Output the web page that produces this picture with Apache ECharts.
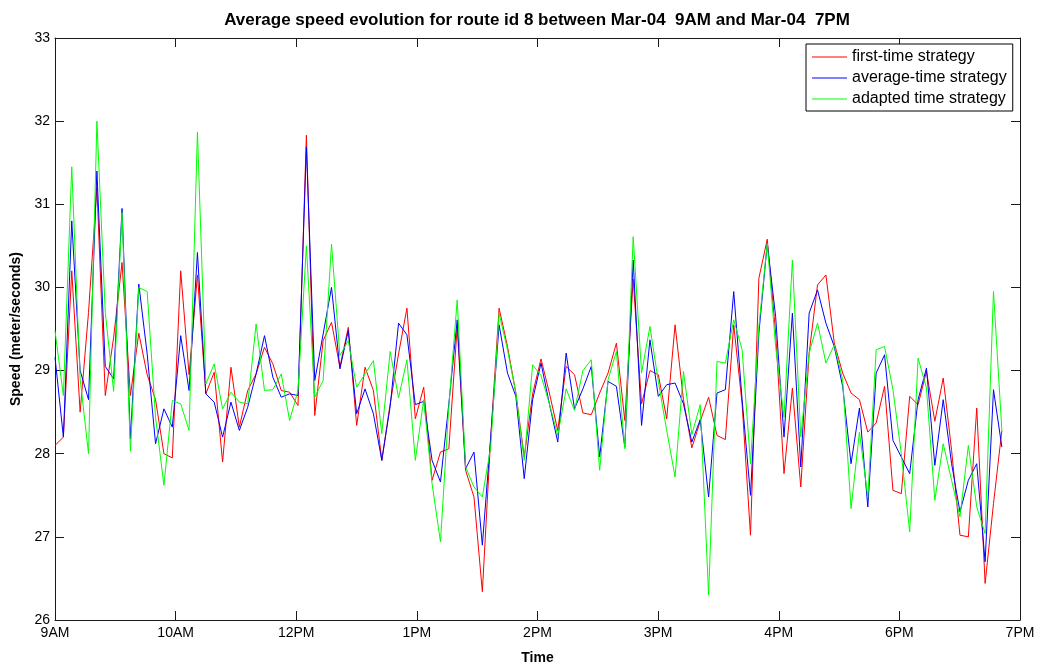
<!DOCTYPE html>
<html>
<head>
<meta charset="utf-8">
<title>Average speed evolution</title>
<script src="https://cdn.jsdelivr.net/npm/echarts@6/dist/echarts.min.js"></script>
<style>
  html, body { margin: 0; padding: 0; background: #fff; }
  #chart-container { width: 1049px; height: 662px; }
</style>
</head>
<body>
<div id="chart-container"></div>
<script>
// tick labels as printed under the axis (one every 75 minutes)
const tickLabels = ["9AM", "10AM", "12PM", "1PM", "2PM", "3PM", "4PM", "6PM", "7PM"];
const yTicks = [26, 27, 28, 29, 30, 31, 32, 33];

// sampling step of the measurements, in minutes after 9AM
const stepMin = 5.21;

const firstTime = [
  28.1, 28.2, 30.2, 28.5, 29.7, 31.2, 28.7, 29.4, 30.3, 28.7,
  29.45, 28.95, 28.65, 28.0, 27.95, 30.2, 28.95, 30.15, 28.72, 28.98,
  27.9, 29.04, 28.32, 28.76, 28.96, 29.28, 29.08, 28.76, 28.74, 28.58,
  31.83, 28.46, 29.36, 29.58, 29.04, 29.52, 28.34, 29.04, 28.76, 27.92,
  28.6, 29.2, 29.75, 28.42, 28.8, 27.68, 28.02, 28.06, 29.53, 27.8,
  27.48, 26.34, 28.2, 29.75, 29.29, 28.73, 27.96, 28.72, 29.14, 28.73,
  28.28, 29.05, 28.95, 28.49, 28.47, 28.73, 28.97, 29.33, 28.4, 30.1,
  28.6, 29.0, 28.95, 28.42, 29.55, 28.65, 28.07, 28.39, 28.68, 28.22,
  28.17, 29.55, 28.6, 27.02, 30.11, 30.58, 29.45, 27.76, 28.79, 27.6,
  29.21, 30.03, 30.15, 29.33, 28.97, 28.73, 28.65, 28.26, 28.37, 28.81,
  27.56, 27.52, 28.69, 28.59, 28.99, 28.39, 28.91, 28.04, 27.02, 27.0,
  28.55, 26.44, 27.4, 28.28
];

const averageTime = [
  29.16, 28.2, 30.8, 29.0, 28.65, 31.4, 29.05, 28.9, 30.95, 28.18,
  30.04, 29.2, 28.12, 28.54, 28.32, 29.42, 28.76, 30.42, 28.72, 28.62,
  28.2, 28.62, 28.28, 28.56, 28.96, 29.42, 28.92, 28.68, 28.72, 28.7,
  31.69, 28.88, 29.44, 30.0, 29.02, 29.48, 28.48, 28.78, 28.48, 27.92,
  28.57, 29.57, 29.43, 28.59, 28.63, 27.92, 27.66, 28.6, 29.61, 27.82,
  28.02, 26.9, 28.2, 29.55, 28.97, 28.69, 27.7, 28.65, 29.09, 28.6,
  28.14, 29.21, 28.54, 28.78, 29.05, 27.96, 28.87, 28.81, 28.08, 30.33,
  28.34, 29.37, 28.69, 28.83, 28.85, 28.6, 28.14, 28.41, 27.48, 28.73,
  28.77, 29.95, 28.65, 27.5, 29.45, 30.53, 29.65, 28.2, 29.69, 27.84,
  29.69, 29.97, 29.57, 29.29, 28.81, 27.88, 28.55, 27.36, 28.97, 29.19,
  28.16, 27.96, 27.76, 28.65, 29.03, 27.86, 28.65, 27.88, 27.3, 27.68,
  27.88, 26.7, 28.77, 28.08
];

const adaptedTime = [
  29.48, 28.7, 31.45, 28.9, 28.0, 32.0, 29.7, 28.75, 30.9, 28.03,
  30.0, 29.95, 28.44, 27.62, 28.64, 28.6, 28.28, 31.87, 28.84, 29.08,
  28.54, 28.74, 28.62, 28.6, 29.56, 28.76, 28.77, 28.96, 28.4, 28.76,
  30.5, 28.68, 28.88, 30.52, 29.18, 29.36, 28.8, 28.96, 29.12, 28.24,
  29.23, 28.67, 29.13, 27.92, 28.65, 27.64, 26.94, 28.57, 29.85, 27.84,
  27.6, 27.48, 28.08, 29.69, 29.25, 28.73, 27.92, 29.07, 28.94, 28.6,
  28.22, 28.78, 28.52, 29.0, 29.13, 27.8, 28.89, 29.23, 28.06, 30.61,
  28.97, 29.53, 28.87, 28.28, 27.72, 28.99, 28.23, 28.59, 26.3, 29.11,
  29.09, 29.61, 29.25, 27.88, 29.53, 30.53, 29.29, 28.44, 30.33, 28.2,
  29.21, 29.57, 29.09, 29.31, 28.89, 27.34, 28.26, 27.48, 29.25, 29.29,
  28.77, 28.0, 27.06, 29.15, 28.79, 27.44, 28.12, 27.68, 27.24, 28.1,
  27.36, 27.04, 29.95, 28.28
];

const seriesNames = ["first-time strategy", "average-time strategy", "adapted time strategy"];
const seriesColors = ["#ff0000", "#0000ff", "#00ff00"];

const pairs = vals => vals.map((v, i) => [i * stepMin, v]);

const axisColor = "#1a1a1a";
const font = "Liberation Sans, Arial, sans-serif";

const chart = echarts.init(document.getElementById("chart-container"), null, { renderer: "canvas" });

const baseX = {
  type: "value", min: 0, max: 600, interval: 75,
  axisLine: { show: true, onZero: false, lineStyle: { color: axisColor, width: 1 } },
  axisTick: { show: true, inside: true, length: 9, lineStyle: { color: axisColor } },
  splitLine: { show: false }
};
const baseY = {
  type: "value", min: yTicks[0], max: yTicks[yTicks.length - 1], interval: 1,
  axisLine: { show: true, onZero: false, lineStyle: { color: axisColor, width: 1 } },
  axisTick: { show: true, inside: true, length: 9, lineStyle: { color: axisColor } },
  splitLine: { show: false }
};

const lineSeries = [firstTime, averageTime, adaptedTime].map((vals, k) => ({
  name: seriesNames[k],
  type: "line",
  data: pairs(vals),
  symbol: "none",
  legendIcon: "rect",
  lineStyle: { color: seriesColors[k], width: 1 },
  itemStyle: { color: seriesColors[k] }
}));

const option = {
  animation: false,
  backgroundColor: "#fff",
  title: {
    text: "Average speed evolution for route id 8 between Mar-04  9AM and Mar-04  7PM",
    left: 532, top: 7, textAlign: "center",
    textStyle: { fontFamily: font, fontSize: 17, fontWeight: "bold", color: "#000" }
  },
  legend: {
    orient: "vertical",
    left: 806, top: 44,
    icon: "rect",
    itemWidth: 35, itemHeight: 1, itemGap: 5,
    padding: [5, 6, 4, 6],
    borderColor: "#000", borderWidth: 1, backgroundColor: "#fff",
    textStyle: { fontFamily: font, fontSize: 16, color: "#000" },
    data: seriesNames.map((n, k) => ({
      name: n,
      itemStyle: { color: seriesColors[k], borderWidth: 0 }
    }))
  },
  grid: { left: 55, right: 29, top: 38, bottom: 42, containLabel: false, outerBoundsMode: "none" },
  xAxis: [
    Object.assign({}, baseX, {
      position: "bottom",
      name: "Time", nameLocation: "middle", nameGap: 31,
      nameTextStyle: { fontFamily: font, fontSize: 14, fontWeight: "bold", color: "#000" },
      axisLabel: {
        fontFamily: font, fontSize: 14, color: "#000", margin: 6,
        formatter: v => tickLabels[Math.round(v / 75)] || ""
      }
    }),
    Object.assign({}, baseX, { position: "top", axisLabel: { show: false } })
  ],
  yAxis: [
    Object.assign({}, baseY, {
      position: "left",
      name: "Speed (meter/seconds)", nameLocation: "middle", nameGap: 30,
      nameTextStyle: { fontFamily: font, fontSize: 14, fontWeight: "bold", color: "#000" },
      axisLabel: { fontFamily: font, fontSize: 14, color: "#000", margin: 5 }
    }),
    Object.assign({}, baseY, { position: "right", axisLabel: { show: false } })
  ],
  series: lineSeries
};

chart.setOption(option);
</script>
</body>
</html>
